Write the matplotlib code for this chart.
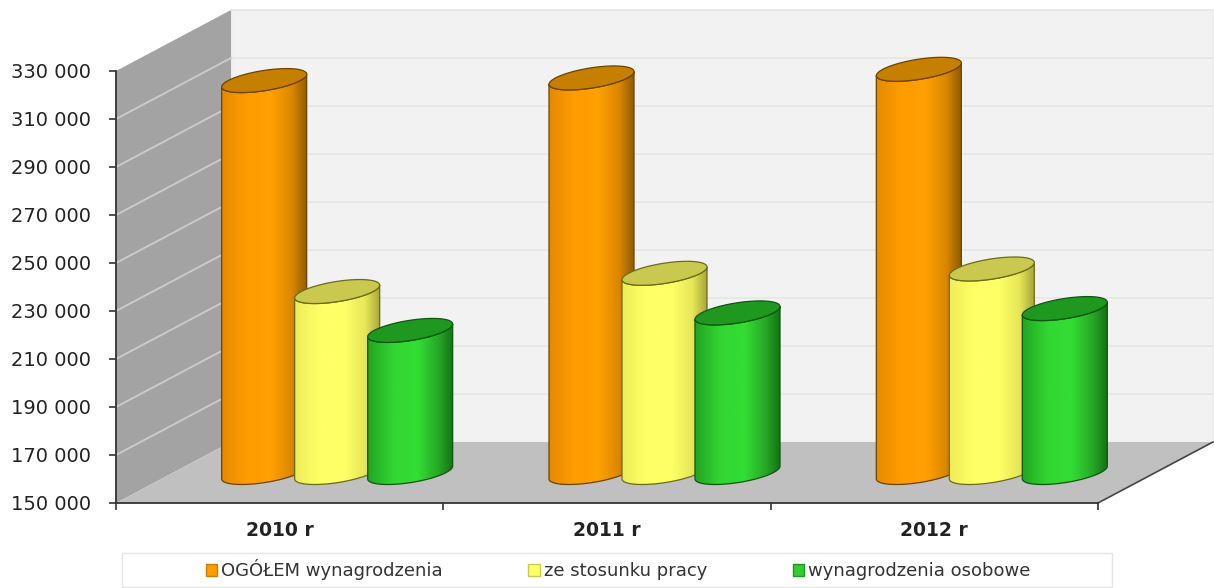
import numpy as np
import matplotlib
matplotlib.use("Agg")
import matplotlib.pyplot as plt
from matplotlib.colors import LinearSegmentedColormap
from matplotlib.patches import Patch, Polygon, Rectangle

years = ["2010 r", "2011 r", "2012 r"]
total_pay = [313300, 314400, 318000]
employment_pay = [225400, 233000, 234800]
personal_pay = [209200, 216500, 218300]
y_ticks = [150000, 170000, 190000, 210000, 230000, 250000, 270000, 290000, 310000, 330000]

series = [
    ("OGÓŁEM wynagrodzenia", total_pay, "#ff9c00", "#c77f00", "#6b4300",
     ["#e58a00", "#ff9c00", "#ffa000", "#d98600", "#8a5a00"]),
    ("ze stosunku pracy", employment_pay, "#ffff66", "#c9c950", "#6b6b18",
     ["#eded5a", "#ffff66", "#ffff66", "#e6e658", "#a3a338"]),
    ("wynagrodzenia osobowe", personal_pay, "#33cc33", "#1f981f", "#0f570f",
     ["#22a522", "#33d633", "#33dd33", "#27a827", "#137013"]),
]
stop_pos = [0, 0.3, 0.58, 0.82, 1]

# pixel geometry of the fake 3D box
W, H = 1214, 588
LEFT, RIGHT, TOP, BOTTOM = 116, 1098, 71, 503
CAT_PX = (RIGHT - LEFT) / 3
VAL_PX = (BOTTOM - TOP) / (max(y_ticks) - min(y_ticks))
DEPTH_X = 115 / CAT_PX
DEPTH_Y = 61 / VAL_PX
BAR_STEP = 73 / CAT_PX
ELL_A = 36 / CAT_PX
ELL_B = 22.6 / CAT_PX
ELL_C = 12 / VAL_PX

plt.rcParams["font.family"] = "DejaVu Sans"

fig = plt.figure(figsize=(W / 100, H / 100), dpi=100)
ax = fig.add_axes([LEFT / W, 1 - BOTTOM / H, (RIGHT - LEFT) / W, (BOTTOM - TOP) / H])
ymin, ymax = min(y_ticks), max(y_ticks)
ax.patch.set_visible(False)

# walls and floor
ax.add_patch(Polygon([(DEPTH_X, ymin + DEPTH_Y), (3 + DEPTH_X, ymin + DEPTH_Y),
                      (3 + DEPTH_X, ymax + DEPTH_Y), (DEPTH_X, ymax + DEPTH_Y)],
                     fc="#f2f2f2", ec="#ececec", lw=1, clip_on=False, zorder=1))
ax.add_patch(Polygon([(0, ymin), (DEPTH_X, ymin + DEPTH_Y), (DEPTH_X, ymax + DEPTH_Y), (0, ymax)],
                     fc="#a3a3a3", ec="none", clip_on=False, zorder=1))
ax.add_patch(Polygon([(0, ymin), (3, ymin), (3 + DEPTH_X, ymin + DEPTH_Y), (DEPTH_X, ymin + DEPTH_Y)],
                     fc="#c0c0c0", ec="none", clip_on=False, zorder=1))
for v in y_ticks[1:]:
    ax.plot([DEPTH_X, 3 + DEPTH_X], [v + DEPTH_Y] * 2, color="#e8e8e8", lw=1.3,
            clip_on=False, zorder=1.2)
for v in y_ticks[1:-1]:
    ax.plot([0, DEPTH_X], [v, v + DEPTH_Y], color="#cccccc", lw=1.3, clip_on=False, zorder=1.2)
ax.plot([3, 3 + DEPTH_X], [ymin, ymin + DEPTH_Y], color="#444444", lw=1.2, clip_on=False, zorder=1.3)


def ellipse_arc(cx, cy, t0, t1):
    t = np.linspace(t0, t1, 80)
    return np.column_stack([cx + ELL_A * np.cos(t) + ELL_B * np.sin(t), cy + ELL_C * np.sin(t)])


def draw_cylinder(cx, base, top, stops, top_color, edge, z):
    t_r = np.arctan2(ELL_B, ELL_A)  # right extreme of the sheared ellipse
    half = np.hypot(ELL_A, ELL_B)
    lower_bottom = ellipse_arc(cx, base, t_r - np.pi, t_r)
    lower_top = ellipse_arc(cx, top, t_r, t_r - np.pi)
    body = Polygon(np.vstack([lower_bottom, lower_top]), fc="none", ec=edge, lw=0.9,
                   clip_on=False, zorder=z + 0.2)
    ax.add_patch(body)
    grad = LinearSegmentedColormap.from_list("cyl", list(zip(stop_pos, stops)))
    im = ax.imshow(np.linspace(0, 1, 256)[None, :], cmap=grad, aspect="auto",
                   extent=(cx - half, cx + half, base - ELL_C, top + ELL_C), zorder=z + 0.1)
    im.set_clip_box(fig.bbox)
    im.set_clip_path(body)
    cap = Polygon(ellipse_arc(cx, top, 0, 2 * np.pi), fc=top_color, ec=edge, lw=0.9,
                  clip_on=False, zorder=z + 0.3)
    ax.add_patch(cap)


z = 3
for i in range(len(years)):
    for j, (name, vals, color, top_color, edge, stops) in enumerate(series):
        cx = i + 0.5 + (j - 1) * BAR_STEP + DEPTH_X / 2
        draw_cylinder(cx, ymin + DEPTH_Y / 2, vals[i] + DEPTH_Y / 2, stops, top_color, edge, z)
        z += 1

ax.set_xlim(0, 3)
ax.set_ylim(ymin, ymax)

# axes
for side in ["top", "right"]:
    ax.spines[side].set_visible(False)
for side in ["left", "bottom"]:
    ax.spines[side].set_color("#333333")
    ax.spines[side].set_linewidth(1.3)
    ax.spines[side].set_zorder(50)
ax.set_yticks(y_ticks)
ax.set_yticklabels([f"{v:,}".replace(",", " ") for v in y_ticks], fontsize=14, color="#222222")
ax.set_xticks([0, 1, 2, 3])
ax.set_xticklabels([])
ax.set_xticks([0.5, 1.5, 2.5], minor=True)
ax.set_xticklabels(years, minor=True, fontsize=13.5, fontweight="bold", color="#222222")
ax.tick_params(axis="x", which="minor", length=0, pad=13)
ax.tick_params(axis="x", which="major", length=5, width=1.2, color="#333333")
ax.tick_params(axis="y", length=5, width=1.2, color="#333333", pad=13)

# legend
fig.add_artist(Rectangle((122 / W, 1 - 587 / H), 990 / W, 34 / H, transform=fig.transFigure,
                         fc="white", ec="#e4e4e4", lw=1))
handles = [Patch(fc=s[2], ec=s[3], lw=1, label=s[0]) for s in series]
fig.legend(handles=handles, loc="center", bbox_to_anchor=(618 / W, 1 - 570 / H), ncols=3,
           frameon=False, fontsize=13, handlelength=0.65, handleheight=0.65,
           handletextpad=0.2, columnspacing=4.75, labelcolor="#333333")

fig.savefig("out.png", dpi=100)
